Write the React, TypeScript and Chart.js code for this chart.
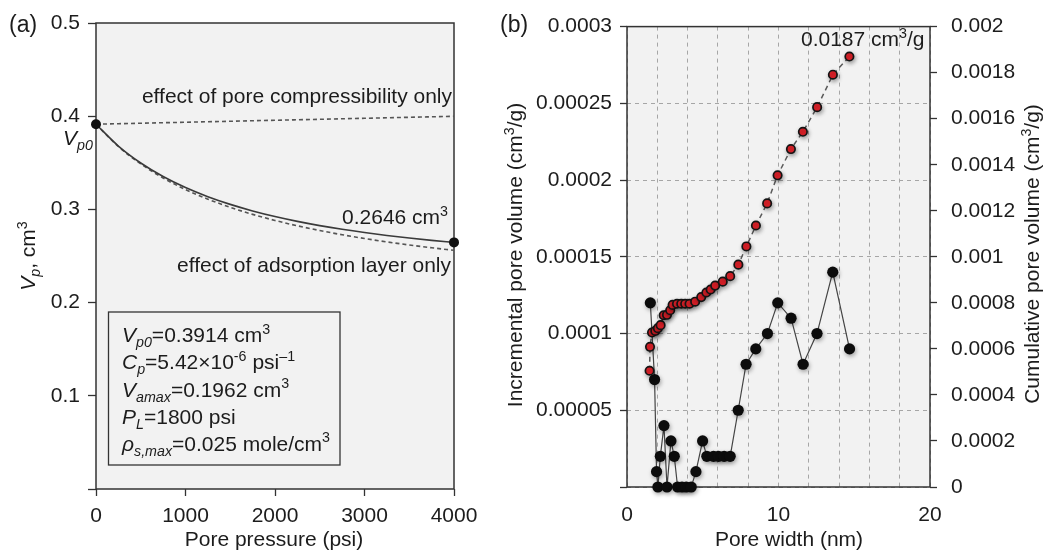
import { useEffect, useRef } from 'react';
import { Chart, registerables } from 'chart.js';

Chart.register(...registerables);

const FONT = "'Liberation Sans', Arial, Helvetica, sans-serif";
const TEXT = '#1c1c1c';
const AXIS = '#333333';
const PLOT_BG = '#f2f2f2';
const GRID = '#a6a6a6';

// ---- (a) pore volume against pore pressure ----
const porePressure = [0, 250, 500, 750, 1000, 1250, 1500, 1750, 2000, 2250, 2500, 2750, 3000, 3250, 3500, 3750, 4000];
const vpCombined = [0.3914, 0.368, 0.34981, 0.33528, 0.32345, 0.31364, 0.3054, 0.29839, 0.29238, 0.28717, 0.28263, 0.27865, 0.27514, 0.27202, 0.26925, 0.26679, 0.2646];
const vpCompressibilityOnly = [0.3914, 0.39193, 0.39246, 0.39299, 0.39352, 0.39405, 0.39458, 0.39511, 0.39564, 0.39617, 0.3967, 0.39723, 0.39776, 0.39829, 0.39882, 0.39936, 0.39989];
const vpAdsorptionOnly = [0.3914, 0.36747, 0.34875, 0.33369, 0.32133, 0.31099, 0.30222, 0.29468, 0.28814, 0.2824, 0.27733, 0.27282, 0.26878, 0.26513, 0.26183, 0.25883, 0.25609];

const pressureTickStep = 1000;
const vpTickStep = 0.1;

const paramVp0 = '0.3914';
const paramCp = '5.42';
const paramVamax = '0.1962';
const paramPL = '1800';
const paramRhoMax = '0.025';

// ---- (b) pore size distribution ----
const incWidth = [1.54, 1.82, 1.95, 2.04, 2.2, 2.44, 2.64, 2.9, 3.12, 3.34, 3.63, 3.91, 4.24, 4.55, 4.99, 5.27, 5.71, 6.04, 6.41, 6.81, 7.34, 7.86, 8.5, 9.27, 9.95, 10.83, 11.62, 12.54, 13.58, 14.69];
const incVolume = [0.00012, 0.00007, 0.00001, 0, 0.00002, 0.00004, 0, 0.00003, 0.00002, 0, 0, 0, 0, 0.00001, 0.00003, 0.00002, 0.00002, 0.00002, 0.00002, 0.00002, 0.00005, 0.00008, 0.00009, 0.0001, 0.00012, 0.00011, 0.00008, 0.0001, 0.00014, 0.00009];
const cumWidth = [1.49, 1.52, 1.65, 1.87, 2.04, 2.22, 2.42, 2.64, 2.85, 3.01, 3.3, 3.58, 3.84, 4.13, 4.5, 4.9, 5.24, 5.52, 5.82, 6.32, 6.81, 7.35, 7.88, 8.51, 9.25, 9.94, 10.82, 11.61, 12.55, 13.59, 14.68];
const cumVolume = [0.000505, 0.000609, 0.000671, 0.000678, 0.00069, 0.000703, 0.000746, 0.000748, 0.000768, 0.000791, 0.000796, 0.000796, 0.000796, 0.000796, 0.000805, 0.000825, 0.000845, 0.000858, 0.000875, 0.000892, 0.000916, 0.000966, 0.001045, 0.001136, 0.001232, 0.001354, 0.001468, 0.001543, 0.00165, 0.001791, 0.00187];

const widthTickStep = 2;
const incTickStep = 0.00005;
const cumTickStep = 0.0002;
const totalVolumeLabel = '0.0187';

type Seg = { t: string; it?: boolean; sub?: boolean; sup?: boolean };

const pts = (xs: number[], ys: number[]) => xs.map((x, i) => ({ x, y: ys[i] }));
const fmtSmall = (v: number) => String(parseFloat(Number(v).toPrecision(6)));

function segFont(s: Seg, size: number) {
  const sz = s.sub || s.sup ? size * 0.68 : size;
  return `${s.it ? 'italic ' : ''}${sz}px ${FONT}`;
}

function richWidth(ctx: CanvasRenderingContext2D, segs: Seg[], size: number) {
  let w = 0;
  for (const s of segs) {
    ctx.font = segFont(s, size);
    w += ctx.measureText(s.t).width;
  }
  return w;
}

function drawRich(
  ctx: CanvasRenderingContext2D,
  segs: Seg[],
  x: number,
  y: number,
  size: number,
  align: 'left' | 'right' | 'center' = 'left',
  rotate = 0
) {
  ctx.save();
  ctx.translate(x, y);
  ctx.rotate(rotate);
  const w = richWidth(ctx, segs, size);
  let cx = align === 'left' ? 0 : align === 'right' ? -w : -w / 2;
  ctx.textAlign = 'left';
  ctx.textBaseline = 'alphabetic';
  ctx.fillStyle = TEXT;
  for (const s of segs) {
    ctx.font = segFont(s, size);
    const dy = s.sup ? -size * 0.4 : s.sub ? size * 0.25 : 0;
    ctx.fillText(s.t, cx, dy);
    cx += ctx.measureText(s.t).width;
  }
  ctx.restore();
}

const plotFrame = {
  id: 'plotFrame',
  beforeDraw(chart: any) {
    const { ctx, chartArea: a } = chart;
    ctx.save();
    ctx.fillStyle = PLOT_BG;
    ctx.fillRect(a.left, a.top, a.right - a.left, a.bottom - a.top);
    ctx.restore();
  },
  beforeDatasetsDraw(chart: any) {
    const { ctx, chartArea: a } = chart;
    ctx.save();
    ctx.strokeStyle = AXIS;
    ctx.lineWidth = 1.5;
    ctx.strokeRect(a.left, a.top, a.right - a.left, a.bottom - a.top);
    ctx.restore();
  },
};

// soft drop shadow under the marker-only datasets
const markerShadow = {
  id: 'markerShadow',
  beforeDatasetDraw(chart: any, args: any) {
    const ds = chart.data.datasets[args.index];
    if (!ds.showLine && ds.showLine !== undefined) {
      const { ctx } = chart;
      ctx.save();
      ctx.shadowColor = 'rgba(0,0,0,0.35)';
      ctx.shadowBlur = 4;
      ctx.shadowOffsetX = 1;
      ctx.shadowOffsetY = 2;
    }
  },
  afterDatasetDraw(chart: any, args: any) {
    const ds = chart.data.datasets[args.index];
    if (!ds.showLine && ds.showLine !== undefined) chart.ctx.restore();
  },
};

const tickFont = { family: FONT, size: 21 };

function PanelA() {
  const ref = useRef<HTMLCanvasElement>(null);
  useEffect(() => {
    const last = porePressure.length - 1;
    const labels = {
      id: 'panelALabels',
      afterDraw(chart: any) {
        const { ctx } = chart;
        drawRich(ctx, [{ t: '(a)' }], 9, 32, 23);
        drawRich(ctx, [{ t: 'effect of pore compressibility only' }], 452, 103, 21, 'right');
        drawRich(ctx, [{ t: `${vpCombined[last]} cm` }, { t: '3', sup: true }], 448, 224, 21, 'right');
        drawRich(ctx, [{ t: 'effect of adsorption layer only' }], 451, 272, 21, 'right');
        drawRich(ctx, [{ t: 'V', it: true }, { t: 'p0', it: true, sub: true }], 63, 145, 21);

        // parameter box
        ctx.save();
        ctx.strokeStyle = AXIS;
        ctx.lineWidth = 1.3;
        ctx.strokeRect(108.5, 312, 231.5, 153);
        ctx.restore();
        const bx = 122;
        drawRich(ctx, [{ t: 'V', it: true }, { t: 'p0', it: true, sub: true }, { t: `=${paramVp0} cm` }, { t: '3', sup: true }], bx, 342, 21);
        drawRich(ctx, [{ t: 'C', it: true }, { t: 'p', it: true, sub: true }, { t: `=${paramCp}\u00d710` }, { t: '-6', sup: true }, { t: ' psi' }, { t: '\u20131', sup: true }], bx, 369, 21);
        drawRich(ctx, [{ t: 'V', it: true }, { t: 'amax', it: true, sub: true }, { t: `=${paramVamax} cm` }, { t: '3', sup: true }], bx, 396.5, 21);
        drawRich(ctx, [{ t: 'P', it: true }, { t: 'L', it: true, sub: true }, { t: `=${paramPL} psi` }], bx, 423.5, 21);
        drawRich(ctx, [{ t: '\u03c1', it: true }, { t: 's,max', it: true, sub: true }, { t: `=${paramRhoMax} mole/cm` }, { t: '3', sup: true }], bx, 450.5, 21);

        // axis titles
        drawRich(ctx, [{ t: 'Pore pressure (psi)' }], 274, 546, 21, 'center');
        drawRich(ctx, [{ t: 'V', it: true }, { t: 'p', it: true, sub: true }, { t: ', cm' }, { t: '3', sup: true }], 35, 256, 21, 'center', -Math.PI / 2);
      },
    };

    const dashed = {
      borderColor: '#555555',
      borderWidth: 1.6,
      borderDash: [4, 3],
      pointRadius: 0,
      cubicInterpolationMode: 'monotone' as const,
      clip: false as const,
    };

    const chart = new Chart(ref.current!, {
      type: 'line',
      data: {
        datasets: [
          {
            data: pts(porePressure, vpCombined),
            borderColor: '#3a3a3a',
            borderWidth: 1.6,
            cubicInterpolationMode: 'monotone',
            pointRadius: (c: any) => (c.dataIndex === 0 || c.dataIndex === last ? 5 : 0),
            pointBackgroundColor: '#111111',
            pointBorderWidth: 0,
            clip: false,
          },
          { data: pts(porePressure, vpCompressibilityOnly), ...dashed },
          { data: pts(porePressure, vpAdsorptionOnly), ...dashed },
        ],
      },
      options: {
        animation: false,
        responsive: false,
        events: [],
        layout: { padding: { top: 23, right: 36, left: 0, bottom: 0 } },
        plugins: { legend: { display: false }, tooltip: { enabled: false } },
        scales: {
          x: {
            type: 'linear',
            min: 0,
            max: 4000,
            ticks: { stepSize: pressureTickStep, padding: 8, maxRotation: 0, color: TEXT, font: tickFont, callback: (v: any) => String(v) },
            grid: { drawOnChartArea: false, drawTicks: true, tickLength: 7, tickColor: AXIS, tickWidth: 1.3 },
            border: { display: false },
            afterFit: (s: any) => { s.height = 64; },
          },
          y: {
            type: 'linear',
            min: 0,
            max: 0.5,
            ticks: { stepSize: vpTickStep, padding: 8, color: TEXT, font: tickFont, callback: (v: any) => (Number(v) === 0 ? '' : Number(v).toFixed(1)) },
            grid: { drawOnChartArea: false, drawTicks: true, tickLength: 8, tickColor: AXIS, tickWidth: 1.3 },
            border: { display: false },
            afterFit: (s: any) => { s.width = 96; },
          },
        },
      },
      plugins: [plotFrame, labels],
    } as any);
    return () => chart.destroy();
  }, []);
  return <canvas ref={ref} width={490} height={553} style={{ position: 'absolute', left: 0, top: 0 }} />;
}

function PanelB() {
  const ref = useRef<HTMLCanvasElement>(null);
  useEffect(() => {
    const labels = {
      id: 'panelBLabels',
      afterDraw(chart: any) {
        const { ctx } = chart;
        drawRich(ctx, [{ t: '(b)' }], 10, 32, 23);
        drawRich(ctx, [{ t: `${totalVolumeLabel} cm` }, { t: '3', sup: true }, { t: '/g' }], 311, 46, 21);
        drawRich(ctx, [{ t: 'Pore width (nm)' }], 299, 546, 21, 'center');
        drawRich(ctx, [{ t: 'Incremental pore volume (cm' }, { t: '3', sup: true }, { t: '/g)' }], 32, 255, 21, 'center', -Math.PI / 2);
        drawRich(ctx, [{ t: 'Cumulative pore volume (cm' }, { t: '3', sup: true }, { t: '/g)' }], 549, 254, 21, 'center', -Math.PI / 2);
      },
    };

    const cumPoints = pts(cumWidth, cumVolume);
    const incPoints = pts(incWidth, incVolume);

    const chart = new Chart(ref.current!, {
      type: 'line',
      data: {
        datasets: [
          {
            data: cumPoints,
            yAxisID: 'y2',
            showLine: false,
            pointRadius: 4.2,
            pointBackgroundColor: '#e5222a',
            pointBorderColor: '#141414',
            pointBorderWidth: 1.7,
            clip: false,
          },
          {
            data: cumPoints,
            yAxisID: 'y2',
            borderColor: '#5a5a5a',
            borderWidth: 1.5,
            borderDash: [5, 4],
            pointRadius: 0,
            clip: false,
          },
          {
            data: incPoints,
            yAxisID: 'y',
            showLine: false,
            pointRadius: 5.6,
            pointBackgroundColor: '#0c0c0c',
            pointBorderWidth: 0,
            clip: false,
          },
          {
            data: incPoints,
            yAxisID: 'y',
            borderColor: '#444444',
            borderWidth: 1.2,
            pointRadius: 0,
            clip: false,
          },
        ],
      },
      options: {
        animation: false,
        responsive: false,
        events: [],
        layout: { padding: { top: 24, right: 0, left: 0, bottom: 0 } },
        plugins: { legend: { display: false }, tooltip: { enabled: false } },
        scales: {
          x: {
            type: 'linear',
            min: 0,
            max: 20,
            ticks: { stepSize: widthTickStep, padding: 16, autoSkip: false, maxRotation: 0, color: TEXT, font: tickFont, callback: (v: any) => (Number(v) % 10 === 0 ? String(v) : '') },
            grid: { color: GRID, lineWidth: 1, drawTicks: false },
            border: { display: false, dash: [4, 4] },
            afterFit: (s: any) => { s.height = 66; },
          },
          y: {
            type: 'linear',
            position: 'left',
            min: 0,
            max: 0.0003,
            ticks: { stepSize: incTickStep, padding: 8, color: TEXT, font: tickFont, callback: (v: any) => (Number(v) === 0 ? '' : fmtSmall(v)) },
            grid: { color: GRID, lineWidth: 1, drawTicks: true, tickLength: 7, tickColor: AXIS, tickWidth: 1.3 },
            border: { display: false, dash: [4, 4] },
            afterFit: (s: any) => { s.width = 137; },
          },
          y2: {
            type: 'linear',
            position: 'right',
            min: 0,
            max: 0.002,
            ticks: { stepSize: cumTickStep, padding: 14, color: TEXT, font: tickFont, callback: (v: any) => fmtSmall(v) },
            grid: { drawOnChartArea: false, drawTicks: true, tickLength: 7, tickColor: AXIS, tickWidth: 1.3 },
            border: { display: false },
            afterFit: (s: any) => { s.width = 118; },
          },
        },
      },
      plugins: [plotFrame, markerShadow, labels],
    } as any);
    return () => chart.destroy();
  }, []);
  return <canvas ref={ref} width={558} height={553} style={{ position: 'absolute', left: 490, top: 0 }} />;
}

export default function App() {
  return (
    <div style={{ position: 'fixed', left: 0, top: 0, width: 1048, height: 553, background: '#ffffff' }}>
      <PanelA />
      <PanelB />
    </div>
  );
}
